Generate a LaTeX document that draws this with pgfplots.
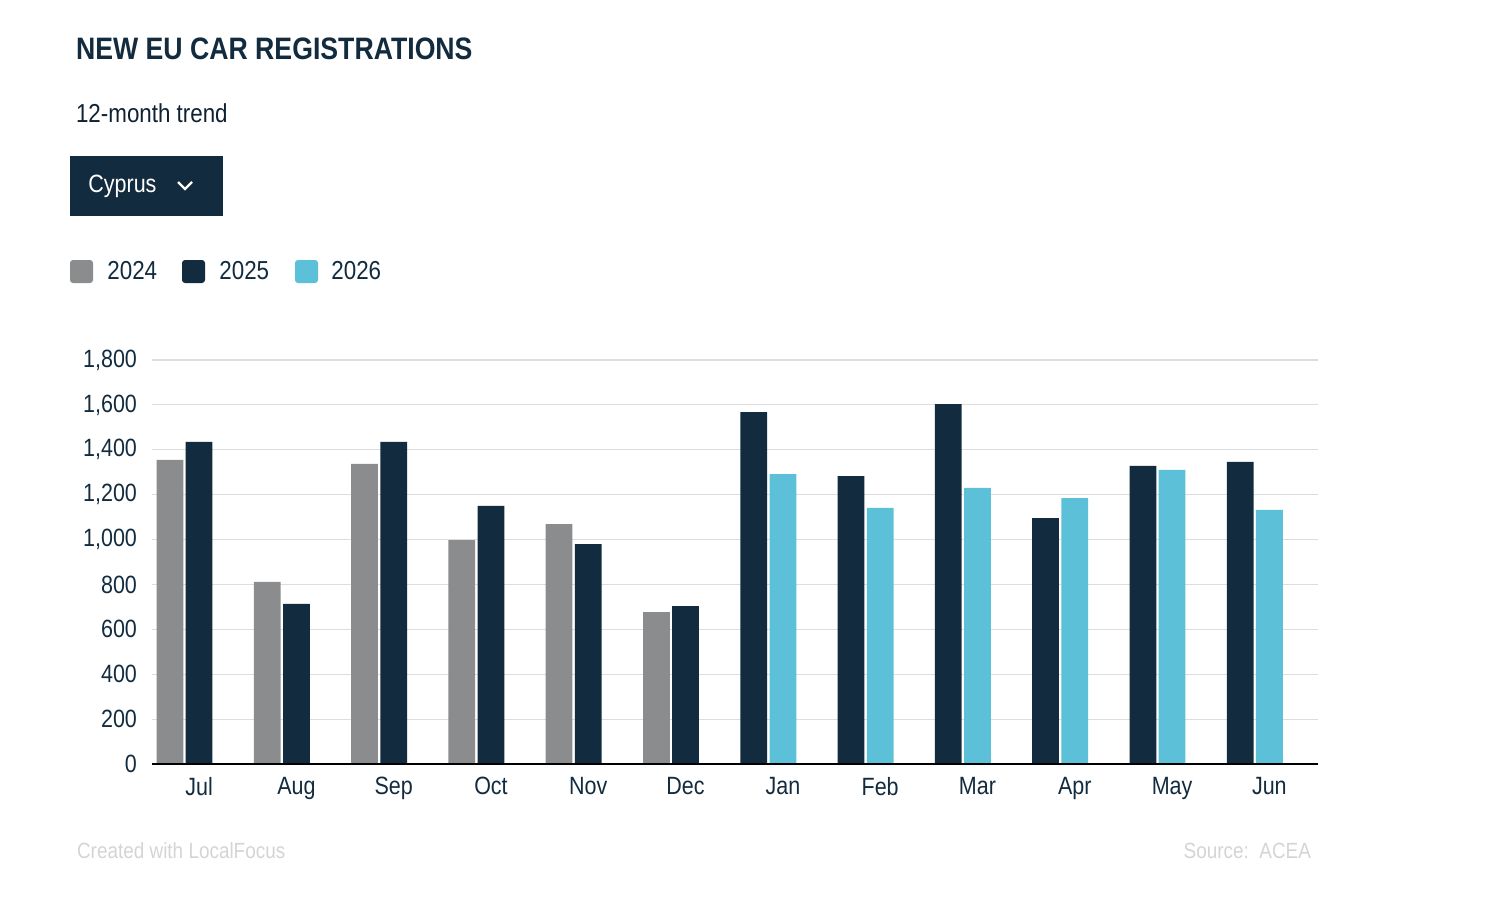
\documentclass[border=0pt]{standalone}
\usepackage{pgfplots}
\pgfplotsset{compat=1.18}
\usepackage{fontspec}
\setmainfont[FakeStretch=0.86]{Liberation Sans}
\definecolor{cgray}{HTML}{8A8C8D}
\definecolor{cnavy}{HTML}{122B3E}
\definecolor{ccyan}{HTML}{5BC0D8}
\definecolor{cgrid}{HTML}{DDDDDD}
\definecolor{cfoot}{HTML}{D4D4D4}
\begin{document}
\begin{tikzpicture}
\path (0,0) rectangle (746pt,451pt);
\node[anchor=base west,text=cnavy,font=\fontsize{15.5}{18}\selectfont\bfseries] at (34.5pt,421pt) {NEW EU CAR REGISTRATIONS};
\node[anchor=base west,text=cnavy!80!black,font=\fontsize{13}{15}\selectfont] at (34.5pt,390pt) {12-month trend};
\fill[cnavy,drop shadow/.style={}] (35pt,343pt) rectangle (111.5pt,373pt);
\node[anchor=west,text=white,font=\fontsize{12.5}{15}\selectfont,inner sep=0pt] at (44pt,358pt) {Cyprus};
\draw[white,line width=1.1pt] (89pt,360pt) -- (92.5pt,356.5pt) -- (96pt,360pt);
\foreach \xa/\xt/\c/\t in {35/53.5/cgray/2024, 91/109.5/cnavy/2025, 147.5/165.5/ccyan/2026}{
  \fill[\c,rounded corners=1.5pt] (\xa pt,309.5pt) rectangle ++(11.5pt,11.5pt);
  \node[anchor=west,inner sep=0pt,text=cnavy,font=\fontsize{13}{15}\selectfont] at (\xt pt,315.5pt) {\t};
}
\node[anchor=base west,text=cfoot,font=\fontsize{11}{13}\selectfont] at (35pt,22pt) {Created with LocalFocus};
\node[anchor=base east,text=cfoot,font=\fontsize{11}{13}\selectfont] at (659pt,22pt) {Source:\ \ ACEA};
\begin{axis}[
  at={(76pt,69pt)}, anchor=south west,
  scale only axis, width=583pt, height=202pt,
  xmin=-0.334, xmax=11.65, ymin=0, ymax=1800,
  axis line style={draw=none},
  ymajorgrids, grid style={cgrid,line width=0.6pt},
  ytick={0,200,...,1800},
  xtick={0.15,1.15,...,11.15},
  xticklabels={Jul,Aug,Sep,Oct,Nov,Dec,Jan,Feb,Mar,Apr,May,Jun},
  major tick length=0pt,
  tick label style={font=\fontsize{12.5}{15}\selectfont,text=cnavy},
  yticklabel style={xshift=-4pt},
  xticklabel style={yshift=-3pt},
  /pgf/number format/assume math mode=true,
  /pgf/number format/1000 sep={,},
  clip=false,
]
\addplot[ybar,bar width=0.275,bar shift=0pt,fill=cgray,draw=none] coordinates {
(-0.15,1355)(0.85,811)(1.85,1337)(2.85,998)(3.85,1069)(4.85,677)};
\addplot[ybar,bar width=0.275,bar shift=0pt,fill=cnavy,draw=none] coordinates {
(0.15,1435)(1.15,713)(2.15,1435)(3.15,1150)(4.15,980)(5.15,704)
(5.85,1568)(6.85,1283)(7.85,1604)(8.85,1096)(9.85,1328)(10.85,1346)};
\addplot[ybar,bar width=0.275,bar shift=0pt,fill=ccyan,draw=none] coordinates {
(6.15,1292)(7.15,1141)(8.15,1230)(9.15,1185)(10.15,1310)(11.15,1132)};
\draw[black,line width=0.8pt] (axis cs:-0.334,0) -- (axis cs:11.65,0);
\end{axis}
\end{tikzpicture}
\end{document}
